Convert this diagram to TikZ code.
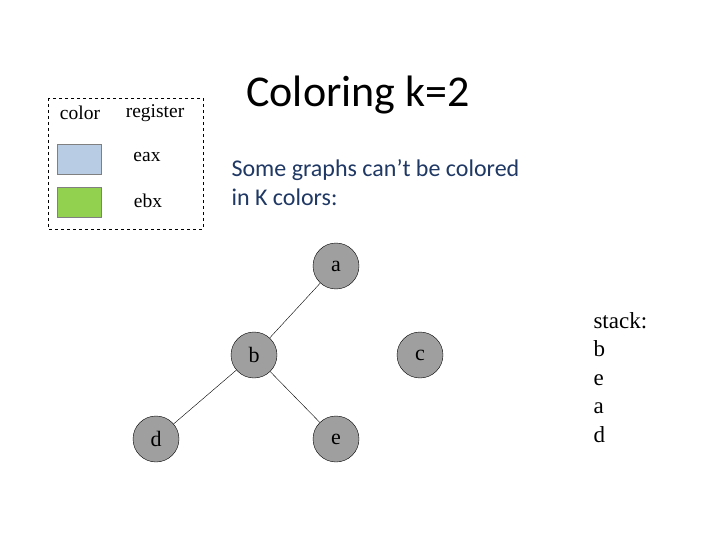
\documentclass[tikz,border=0pt]{standalone}
\usepackage{fontspec}
\newfontfamily\calfont{Carlito}
\setmainfont{Liberation Serif}
\begin{document}
\begin{tikzpicture}[x=1pt,y=-1pt,
 gnode/.style={circle,draw=black,fill=gray!75,minimum size=46pt,inner sep=0pt,font=\fontsize{22}{24}\selectfont},
 lab/.style={font=\fontsize{19.5}{22}\selectfont}]
\useasboundingbox (0,0) rectangle (720,540);
\draw[dashed] (48,98) rectangle (203,229);
\node[lab] (hc) at (80,113) {color};
\node[lab] (hr) at (155,113) {register};
\node[draw=gray,fill={rgb,255:red,184;green,204;blue,228},minimum width=44pt,minimum height=30pt] (s1) at (79,159) {};
\node[draw=gray,fill={rgb,255:red,146;green,208;blue,80},minimum width=44pt,minimum height=30pt] (s2) at (79,202) {};
\node[lab] (r1) at (147,157) {eax};
\node[lab] (r2) at (148,201) {ebx};
\node[font=\calfont\fontsize{44}{48}\selectfont] (t) at (358,95) {Coloring k=2};
\node[font=\calfont\fontsize{24}{29}\selectfont,text={rgb,255:red,31;green,56;blue,100},align=left,anchor=west] (sub) at (228,183) {Some graphs can’t be colored\\in K colors:};
\node[gnode] (a) at (336,266) {a};
\node[gnode] (b) at (254,355) {b};
\node[gnode] (c) at (420,355) {c};
\node[gnode] (d) at (156,439) {d};
\node[gnode] (e) at (336,439) {e};
\draw (a) -- (b); \draw (b) -- (d); \draw (b) -- (e);
\node[font=\fontsize{23}{28.5}\selectfont,align=left,anchor=north west] (st) at (590,309) {stack:\\b\\e\\a\\d};
\end{tikzpicture}
\end{document}
